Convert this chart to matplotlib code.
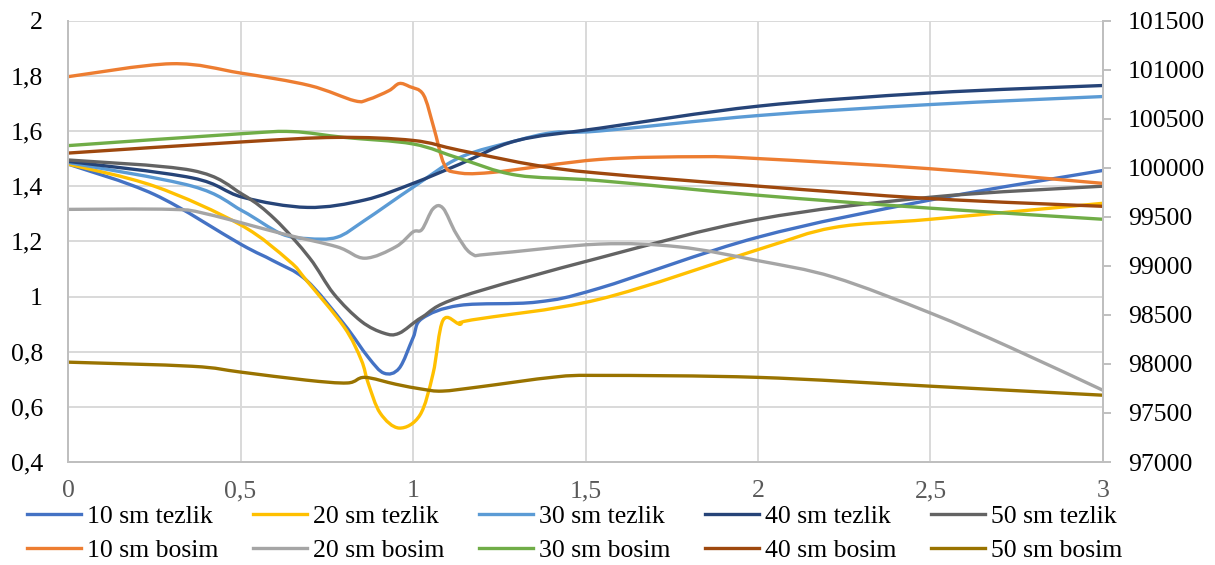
import numpy as np
import matplotlib.pyplot as plt
from matplotlib.path import Path
from matplotlib.patches import PathPatch
from matplotlib.lines import Line2D
from matplotlib.ticker import FuncFormatter, MultipleLocator

plt.rcParams['font.family'] = ['Liberation Serif', 'DejaVu Serif']

# tezlik (left axis)
x_t10 = [0, 0.25, 0.5, 0.594, 0.69, 0.80, 0.87, 0.916, 0.96, 1.0, 1.026, 1.136, 1.36, 1.54, 2.0, 2.5, 3.0]
t10 = [1.48, 1.37, 1.19, 1.13, 1.06, 0.90, 0.78, 0.722, 0.74, 0.85, 0.92, 0.968, 0.98, 1.03, 1.215, 1.35, 1.457]

x_t20 = [0, 0.25, 0.5, 0.64, 0.69, 0.80, 0.85, 0.87, 0.905, 0.96, 1.02, 1.058, 1.087, 1.136, 1.17, 1.54, 2.0, 2.22, 2.5, 3.0]
t20 = [1.48, 1.40, 1.26, 1.13, 1.06, 0.89, 0.77, 0.686, 0.577, 0.523, 0.57, 0.72, 0.914, 0.90, 0.915, 0.99, 1.17, 1.25, 1.28, 1.338]

x_t30 = [0, 0.36, 0.506, 0.617, 0.694, 0.78, 0.86, 1.0, 1.136, 1.30, 1.41, 1.54, 2.0, 2.5, 3.0]
t30 = [1.486, 1.40, 1.31, 1.228, 1.21, 1.215, 1.276, 1.396, 1.504, 1.565, 1.595, 1.60, 1.656, 1.696, 1.725]

x_t40 = [0, 0.36, 0.506, 0.694, 0.86, 1.0, 1.136, 1.30, 1.54, 2.0, 2.5, 3.0]
t40 = [1.49, 1.43, 1.36, 1.323, 1.35, 1.41, 1.48, 1.565, 1.61, 1.69, 1.738, 1.765]

x_t50 = [0, 0.36, 0.506, 0.6, 0.7, 0.77, 0.85, 0.916, 0.96, 1.026, 1.136, 1.54, 2.0, 2.5, 3.0]
t50 = [1.495, 1.457, 1.37, 1.28, 1.14, 1.01, 0.91, 0.867, 0.867, 0.925, 0.998, 1.14, 1.28, 1.36, 1.40]

# bosim (right axis)
x_b10 = [0, 0.3, 0.5, 0.7, 0.83, 0.87, 0.93, 0.96, 0.99, 1.03, 1.06, 1.09, 1.125, 1.23, 1.54, 1.83, 2.0, 2.5, 3.0]
b10 = [100929, 101061, 100966, 100839, 100684, 100696, 100786, 100859, 100828, 100746, 100412, 100038, 99953, 99953, 100085, 100113, 100094, 99990, 99841]

x_b20 = [0, 0.3, 0.4, 0.62, 0.78, 0.86, 0.95, 1.0, 1.026, 1.058, 1.087, 1.125, 1.17, 1.23, 1.54, 1.77, 2.0, 2.22, 2.5, 2.73, 3.0]
b20 = [99576, 99576, 99531, 99329, 99194, 99078, 99194, 99346, 99371, 99582, 99588, 99329, 99123, 99123, 99222, 99194, 99053, 98884, 98519, 98170, 97731]

x_b30 = [0, 0.5, 0.65, 0.8, 1.0, 1.136, 1.3, 1.54, 2.0, 2.5, 3.0]
b30 = [100226, 100347, 100369, 100310, 100243, 100094, 99925, 99869, 99720, 99588, 99475]

x_b40 = [0, 0.5, 0.78, 1.0, 1.136, 1.36, 1.54, 2.0, 2.5, 3.0]
b40 = [100150, 100263, 100310, 100279, 100178, 100023, 99945, 99813, 99686, 99607]

x_b50 = [0, 0.36, 0.5, 0.69, 0.81, 0.86, 0.95, 1.026, 1.085, 1.19, 1.41, 1.54, 2.0, 2.5, 3.0]
b50 = [98018, 97976, 97917, 97835, 97806, 97863, 97793, 97743, 97723, 97765, 97866, 97883, 97863, 97773, 97681]

lw = 2.4


def smooth_line(ax, x, y, color, label):
    # Excel-style smoothed line: cubic Bezier segments through the points
    pts = np.column_stack([x, y]).astype(float)
    n = len(pts)
    verts = [pts[0]]
    codes = [Path.MOVETO]
    for i in range(n - 1):
        p0 = pts[max(i - 1, 0)]
        p1 = pts[i]
        p2 = pts[i + 1]
        p3 = pts[min(i + 2, n - 1)]
        verts += [p1 + (p2 - p0) / 6, p2 - (p3 - p1) / 6, p2]
        codes += [Path.CURVE4] * 3
    ax.add_patch(PathPatch(Path(verts, codes), fill=False, edgecolor=color,
                           lw=lw, capstyle='round', joinstyle='round'))
    return Line2D([], [], color=color, lw=lw, label=label)


fig = plt.figure(figsize=(12.15, 5.65), dpi=100)
ax = fig.add_axes([0.056, 0.1823, 0.8518, 0.7811])
ax2 = ax.twinx()

h_t10 = smooth_line(ax, x_t10, t10, '#4472C4', '10 sm tezlik')
h_t20 = smooth_line(ax, x_t20, t20, '#FFC000', '20 sm tezlik')
h_t30 = smooth_line(ax, x_t30, t30, '#5B9BD5', '30 sm tezlik')
h_t40 = smooth_line(ax, x_t40, t40, '#264478', '40 sm tezlik')
h_t50 = smooth_line(ax, x_t50, t50, '#636363', '50 sm tezlik')

h_b10 = smooth_line(ax2, x_b10, b10, '#ED7D31', '10 sm bosim')
h_b20 = smooth_line(ax2, x_b20, b20, '#A5A5A5', '20 sm bosim')
h_b30 = smooth_line(ax2, x_b30, b30, '#70AD47', '30 sm bosim')
h_b40 = smooth_line(ax2, x_b40, b40, '#9E480E', '40 sm bosim')
h_b50 = smooth_line(ax2, x_b50, b50, '#997300', '50 sm bosim')

ax.set_xlim(0, 3)
ax.set_ylim(0.4, 2)
ax2.set_ylim(97000, 101500)
ax.xaxis.set_major_locator(MultipleLocator(0.5))
ax.yaxis.set_major_locator(MultipleLocator(0.2))
ax2.yaxis.set_major_locator(MultipleLocator(500))

comma = FuncFormatter(lambda v, p: ('%g' % round(v, 2)).replace('.', ','))
ax.xaxis.set_major_formatter(comma)
ax.yaxis.set_major_formatter(comma)

ax.grid(True, color='#d9d9d9', lw=1.4)
ax.set_axisbelow(True)
for a in (ax, ax2):
    for s in a.spines.values():
        s.set_color('#bfbfbf')
        s.set_linewidth(1.4)
    a.spines['top'].set_visible(False)

fs = 18.5
ax.tick_params(axis='y', length=0, labelsize=fs, pad=18, colors='black')
ax.tick_params(axis='x', length=0, labelsize=fs, pad=13, labelcolor='#595959')
ax2.tick_params(axis='y', length=6, width=1.4, color='#bfbfbf', labelsize=fs, pad=12)

handles = [h_t10, h_b10, h_t20, h_b20, h_t30, h_b30, h_t40, h_b40, h_t50, h_b50]
fig.legend(handles=handles, labels=[h.get_label() for h in handles],
           loc='center left', bbox_to_anchor=(0.0226, 0.0558), ncol=5,
           frameon=False, fontsize=fs, handlelength=2.1, handletextpad=0.23,
           columnspacing=1.35, labelspacing=0.42, borderpad=0, borderaxespad=0)

fig.savefig('out.png', dpi=100)
